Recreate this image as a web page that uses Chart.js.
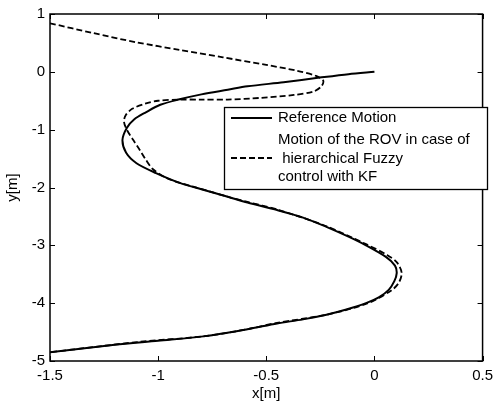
<!DOCTYPE html>
<html>
<head>
<meta charset="utf-8">
<script src="https://cdn.jsdelivr.net/npm/chart.js@4"></script>
<style>
  html, body { margin: 0; padding: 0; background: #fff; }
  canvas { display: block; }
</style>
</head>
<body>
<canvas id="traj" width="499" height="406"></canvas>
<script>
// reference path of the vehicle, x then y in metres
const refX = [0, -0.12, -0.253, -0.42, -0.587, -0.678, -0.80, -0.906, -0.99, -1.057, -1.11, -1.145, -1.165, -1.148, -1.10, -1.01, -0.90, -0.80, -0.678, -0.587, -0.45, -0.33, -0.222, -0.12, -0.039, 0.053, 0.095, 0.103, 0.092, 0.066, 0.02, -0.039, -0.13, -0.222, -0.33, -0.45, -0.587, -0.783, -1.0, -1.2, -1.5];
const refY = [0, -0.04, -0.10, -0.18, -0.25, -0.31, -0.39, -0.48, -0.57, -0.70, -0.82, -0.97, -1.18, -1.40, -1.58, -1.75, -1.92, -2.03, -2.16, -2.26, -2.39, -2.52, -2.68, -2.85, -3.0, -3.2, -3.35, -3.48, -3.62, -3.77, -3.9, -4.0, -4.11, -4.2, -4.28, -4.35, -4.45, -4.57, -4.65, -4.72, -4.85];

// ROV path under hierarchical fuzzy control with KF
const rovX = [-1.5, -1.3, -1.1, -0.9, -0.7, -0.5, -0.36, -0.27, -0.237, -0.245, -0.281, -0.372, -0.527, -0.678, -0.80, -0.906, -1.0, -1.06, -1.12, -1.15, -1.158, -1.145, -1.115, -1.085, -1.057, -1.025, -0.97, -0.90, -0.815, -0.678, -0.587, -0.45, -0.222, -0.039, 0.06, 0.105, 0.126, 0.112, 0.078, -0.03, -0.222, -0.45, -0.587, -0.783, -1.089, -1.30, -1.5];
const rovY = [0.84, 0.67, 0.51, 0.38, 0.25, 0.12, 0.02, -0.07, -0.15, -0.25, -0.34, -0.40, -0.45, -0.48, -0.48, -0.48, -0.50, -0.55, -0.64, -0.75, -0.86, -1.0, -1.18, -1.35, -1.52, -1.68, -1.82, -1.92, -2.01, -2.16, -2.25, -2.38, -2.67, -2.98, -3.17, -3.3, -3.48, -3.65, -3.78, -4.0, -4.2, -4.34, -4.45, -4.57, -4.67, -4.76, -4.85];

const xTicks = [-1.5, -1, -0.5, 0, 0.5];
const yTicks = [1, 0, -1, -2, -3, -4, -5];

const legendLines = [
  ['Reference Motion'],
  ['Motion of the ROV in case of', ' hierarchical Fuzzy', 'control with KF']
];

const FONT = '"Liberation Sans", Arial, sans-serif';

const toPoints = (xs, ys) => xs.map((x, i) => ({ x: x, y: ys[i] }));

// axes box with inward tick marks and the boxed legend
const framePlugin = {
  id: 'frame',
  afterDraw(chart) {
    const ctx = chart.ctx;
    const a = chart.chartArea;
    const sx = chart.scales.x, sy = chart.scales.y;
    const tl = 5;
    ctx.save();
    ctx.strokeStyle = '#000';
    ctx.lineWidth = 1.5;
    ctx.strokeRect(a.left, a.top, a.right - a.left, a.bottom - a.top);
    ctx.lineWidth = 1;
    ctx.beginPath();
    xTicks.forEach(v => {
      const p = Math.round(sx.getPixelForValue(v)) + 0.5;
      ctx.moveTo(p, a.bottom); ctx.lineTo(p, a.bottom - tl);
      ctx.moveTo(p, a.top); ctx.lineTo(p, a.top + tl);
    });
    yTicks.forEach(v => {
      const p = Math.round(sy.getPixelForValue(v)) + 0.5;
      ctx.moveTo(a.left, p); ctx.lineTo(a.left + tl, p);
      ctx.moveTo(a.right, p); ctx.lineTo(a.right - tl, p);
    });
    ctx.stroke();

    // legend
    const bx = 224, by = 107, bw = 263, bh = 82;
    ctx.fillStyle = '#fff';
    ctx.fillRect(bx, by, bw, bh);
    ctx.lineWidth = 1.3;
    ctx.strokeRect(bx + 0.5, by + 0.5, bw, bh);

    ctx.font = '15px ' + FONT;
    ctx.fillStyle = '#000';
    ctx.textBaseline = 'middle';
    ctx.textAlign = 'left';
    const rows = [118, 158];
    const firstLine = [118, 140];
    chart.data.datasets.forEach((ds, i) => {
      ctx.beginPath();
      ctx.lineWidth = ds.borderWidth;
      ctx.setLineDash(ds.borderDash || []);
      ctx.moveTo(231, rows[i]);
      ctx.lineTo(272, rows[i]);
      ctx.stroke();
      ctx.setLineDash([]);
      legendLines[i].forEach((t, j) => {
        ctx.fillText(t, 278, firstLine[i] + j * 18.5);
      });
    });
    ctx.restore();
  }
};

new Chart(document.getElementById('traj'), {
  type: 'scatter',
  data: {
    datasets: [
      {
        label: 'Reference Motion',
        data: toPoints(refX, refY),
        showLine: true,
        borderColor: '#000',
        borderWidth: 2,
        pointRadius: 0,
        tension: 0.3
      },
      {
        label: 'Motion of the ROV in case of hierarchical Fuzzy control with KF',
        data: toPoints(rovX, rovY),
        showLine: true,
        borderColor: '#000',
        borderWidth: 1.8,
        borderDash: [6, 3],
        pointRadius: 0,
        tension: 0.3
      }
    ]
  },
  options: {
    responsive: false,
    animation: false,
    layout: { padding: { top: 14, right: 11, left: 0, bottom: 0 } },
    plugins: {
      legend: { display: false },
      tooltip: { enabled: false }
    },
    scales: {
      x: {
        type: 'linear',
        min: -1.5,
        max: 0.5,
        afterBuildTicks: s => { s.ticks = xTicks.map(v => ({ value: v })); },
        afterFit: s => { s.height = 45; },
        grid: { display: false, drawTicks: false },
        border: { display: false },
        ticks: { color: '#000', padding: 6, maxRotation: 0, callback: v => String(v), font: { family: FONT, size: 15 } },
        title: { display: true, text: 'x[m]', color: '#000', padding: { bottom: 3 }, font: { family: FONT, size: 15 } }
      },
      y: {
        type: 'linear',
        min: -5,
        max: 1,
        afterBuildTicks: s => { s.ticks = yTicks.map(v => ({ value: v })); },
        afterFit: s => { s.width = 50; },
        grid: { display: false, drawTicks: false },
        border: { display: false },
        ticks: { color: '#000', padding: 5, callback: v => String(v), font: { family: FONT, size: 15 } },
        title: { display: true, text: 'y[m]', color: '#000', padding: { top: 4 }, font: { family: FONT, size: 15 } }
      }
    }
  },
  plugins: [framePlugin]
});
</script>
</body>
</html>
